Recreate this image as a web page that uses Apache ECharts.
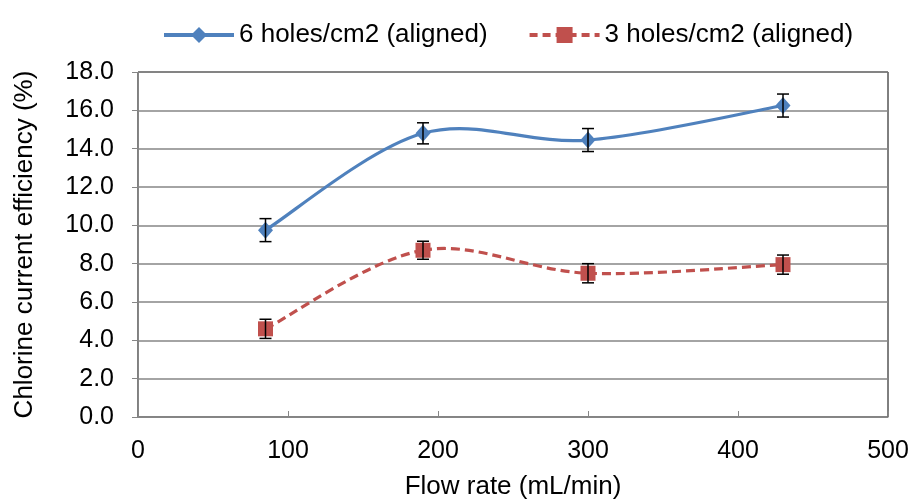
<!DOCTYPE html>
<html>
<head>
<meta charset="utf-8">
<script src="https://cdn.jsdelivr.net/npm/echarts@6/dist/echarts.min.js"></script>
<style>
  html, body { margin: 0; padding: 0; background: #fff; }
  #chart { width: 910px; height: 499px; }
</style>
</head>
<body>
<div id="chart"></div>
<script>
// flow rate (mL/min)
var flowRates = [85, 190, 300, 430];
// chlorine current efficiency (%)
var holes6 = [9.75, 14.8, 14.45, 16.25];
var holes6Err = [0.6, 0.55, 0.6, 0.6];
var holes3 = [4.6, 8.7, 7.5, 7.95];
var holes3Err = [0.5, 0.47, 0.5, 0.5];

var BLUE = '#4F81BD';
var RED = '#C0504D';
var font = 'Liberation Sans, Arial, sans-serif';

function pairs(xs, ys) {
  return xs.map(function (x, i) { return [x, ys[i]]; });
}
function errRows(xs, ys, es) {
  return xs.map(function (x, i) { return [x, ys[i] - es[i], ys[i] + es[i]]; });
}

// error bars, placed with the axis scales
function renderErr(params, api) {
  var lo = api.coord([api.value(0), api.value(1)]);
  var hi = api.coord([api.value(0), api.value(2)]);
  var w = 6;
  var st = { stroke: '#000', lineWidth: 1.5 };
  return {
    type: 'group',
    children: [
      { type: 'line', shape: { x1: lo[0], y1: lo[1], x2: hi[0], y2: hi[1] }, style: st },
      { type: 'line', shape: { x1: lo[0] - w, y1: lo[1], x2: lo[0] + w, y2: lo[1] }, style: st },
      { type: 'line', shape: { x1: hi[0] - w, y1: hi[1], x2: hi[0] + w, y2: hi[1] }, style: st }
    ]
  };
}

// excel-like smoothed line (catmull-rom style bezier), one segment per item
function smoothRenderer(ys, color, dash) {
  return function (params, api) {
    var i = params.dataIndex;
    if (i >= flowRates.length - 1) return null;
    var pts = flowRates.map(function (x, k) { return api.coord([x, ys[k]]); });
    var p0 = pts[Math.max(i - 1, 0)], p1 = pts[i], p2 = pts[i + 1], p3 = pts[Math.min(i + 2, pts.length - 1)];
    var k = 1 / 6;
    return {
      type: 'bezierCurve',
      shape: {
        x1: p1[0], y1: p1[1], x2: p2[0], y2: p2[1],
        cpx1: p1[0] + (p2[0] - p0[0]) * k, cpy1: p1[1] + (p2[1] - p0[1]) * k,
        cpx2: p2[0] - (p3[0] - p1[0]) * k, cpy2: p2[1] - (p3[1] - p1[1]) * k
      },
      style: { stroke: color, lineWidth: 3.2, fill: null, lineDash: dash || null }
    };
  };
}

var myChart = echarts.init(document.getElementById('chart'));
myChart.setOption({
  animation: false,
  textStyle: { fontFamily: font },
  legend: {
    top: 17,
    left: 157,
    itemGap: 40,
    itemWidth: 70,
    itemHeight: 20,
    textStyle: { fontSize: 26, color: '#000', fontFamily: font },
    data: [
      { name: '6 holes/cm2 (aligned)', lineStyle: { color: BLUE, width: 4, opacity: 1, type: 'solid' } },
      { name: '3 holes/cm2 (aligned)', lineStyle: { color: RED, width: 4, opacity: 1, type: [8, 5] } }
    ]
  },
  grid: {
    left: 138, right: 22, top: 72, bottom: 82,
    outerBoundsMode: 'none',
    show: true, borderColor: '#000', borderWidth: 1
  },
  xAxis: {
    type: 'value',
    min: 0, max: 500, interval: 100,
    name: 'Flow rate (mL/min)',
    nameLocation: 'middle',
    nameGap: 57,
    nameTextStyle: { fontSize: 26, color: '#000', fontFamily: font },
    axisLine: { lineStyle: { color: '#868686', width: 1 } },
    axisTick: { show: true, inside: true, length: 6, lineStyle: { color: '#868686' } },
    axisLabel: { fontSize: 25, color: '#000', margin: 22, fontFamily: font },
    splitLine: { show: false }
  },
  yAxis: {
    type: 'value',
    min: 0, max: 18, interval: 2,
    name: 'Chlorine current efficiency (%)',
    nameLocation: 'middle',
    nameGap: 100,
    nameTextStyle: { fontSize: 26, color: '#000', fontFamily: font },
    axisLine: { show: true, lineStyle: { color: '#868686', width: 1 } },
    axisTick: { show: true, length: 6, lineStyle: { color: '#868686' } },
    axisLabel: {
      fontSize: 25, color: '#000', margin: 24, fontFamily: font,
      formatter: function (v) { return v.toFixed(1); }
    },
    splitLine: { show: true, lineStyle: { color: '#868686', width: 1.5 } }
  },
  series: [
    {
      name: '6 holes/cm2 (aligned)',
      type: 'line',
      data: pairs(flowRates, holes6),
      symbol: 'diamond',
      symbolSize: [15, 17],
      z: 5,
      itemStyle: { color: BLUE },
      lineStyle: { color: BLUE, width: 3, opacity: 0 }
    },
    {
      name: '3 holes/cm2 (aligned)',
      type: 'line',
      data: pairs(flowRates, holes3),
      symbol: 'rect',
      symbolSize: 15,
      z: 5,
      itemStyle: { color: RED },
      lineStyle: { color: RED, width: 3, opacity: 0 }
    },
    {
      type: 'custom',
      renderItem: smoothRenderer(holes6, BLUE),
      data: pairs(flowRates, holes6),
      encode: { x: 0, y: 1 },
      z: 3,
      silent: true
    },
    {
      type: 'custom',
      renderItem: smoothRenderer(holes3, RED, [9, 5]),
      data: pairs(flowRates, holes3),
      encode: { x: 0, y: 1 },
      z: 3,
      silent: true
    },
    {
      type: 'custom',
      renderItem: renderErr,
      data: errRows(flowRates, holes6, holes6Err),
      encode: { x: 0, y: [1, 2] },
      z: 6,
      silent: true
    },
    {
      type: 'custom',
      renderItem: renderErr,
      data: errRows(flowRates, holes3, holes3Err),
      encode: { x: 0, y: [1, 2] },
      z: 6,
      silent: true
    }
  ]
});
</script>
</body>
</html>
